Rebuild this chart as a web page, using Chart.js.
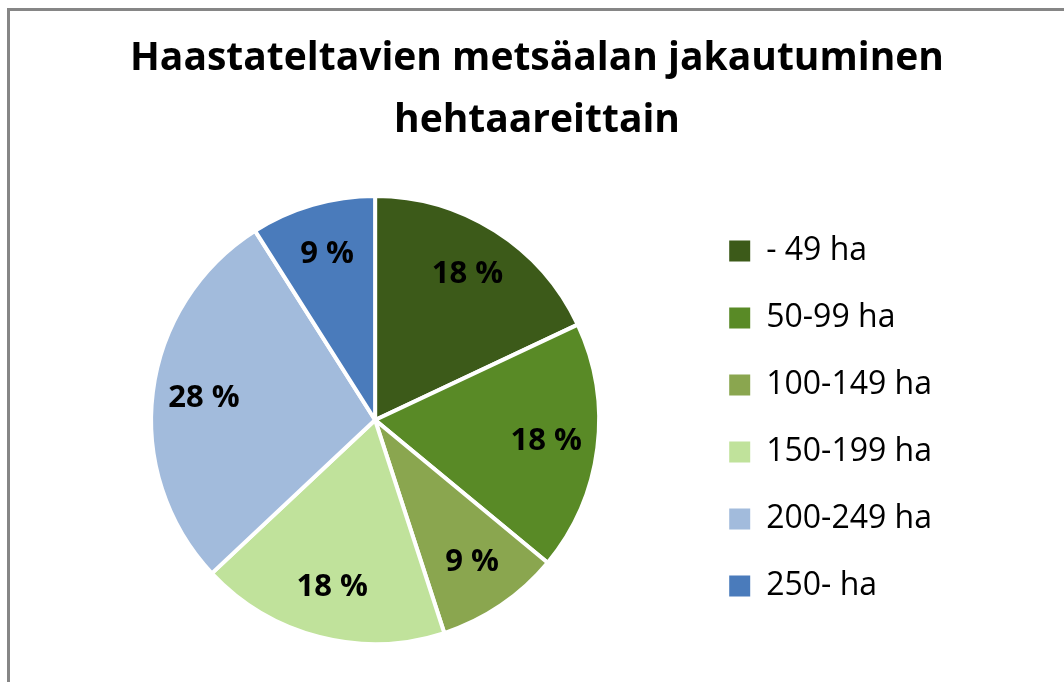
<!DOCTYPE html>
<html>
<head>
<meta charset="utf-8">
<script src="https://cdn.jsdelivr.net/npm/chart.js@4"></script>
<style>
  html, body { margin: 0; padding: 0; background: #fff; overflow: hidden; }
  #frame {
    position: absolute; left: 7px; top: 8px;
    width: 1054px; height: 671px;
    border-left: 3px solid #868686; border-top: 3px solid #868686;
  }
</style>
</head>
<body>
<div id="frame"><canvas id="pie" width="1054" height="671"></canvas></div>
<script>
// Chart data
const titleLines = ['Haastateltavien metsäalan jakautuminen', 'hehtaareittain'];
const categories = ['- 49 ha', '50-99 ha', '100-149 ha', '150-199 ha', '200-249 ha', '250- ha'];
const shares = [18, 18, 9, 18, 28, 9];
const sliceColors = ['#3c5a19', '#598a26', '#8aa64f', '#c0e29b', '#a2bbdc', '#4a7bbb'];

// draws the "18 %" style labels inside the slices
const sliceLabels = {
    id: 'sliceLabels',
    afterDatasetsDraw(chart) {
        const ctx = chart.ctx;
        const arcs = chart.getDatasetMeta(0).data;
        ctx.save();
        ctx.font = 'bold 31px "Open Sans"';
        ctx.fillStyle = '#000';
        ctx.textAlign = 'center';
        ctx.textBaseline = 'middle';
        arcs.forEach((arc, i) => {
            const { x, y, startAngle, endAngle, outerRadius } = arc.getProps(['x', 'y', 'startAngle', 'endAngle', 'outerRadius'], true);
            const mid = (startAngle + endAngle) / 2;
            const r = outerRadius * 0.77;
            ctx.fillText(shares[i] + ' %', x + Math.cos(mid) * r, y + Math.sin(mid) * r);
        });
        ctx.restore();
    }
};

// title is centred over the whole canvas, not just the part left of the legend
const fullWidthTitle = {
    id: 'fullWidthTitle',
    afterLayout(chart) {
        if (chart.titleBlock) {
            chart.titleBlock.left = 0;
            chart.titleBlock.right = chart.width;
            chart.titleBlock.width = chart.width;
        }
    }
};

const pieLegendLabels = Chart.overrides.pie.plugins.legend.labels.generateLabels;

new Chart(document.getElementById('pie').getContext('2d'), {
    type: 'pie',
    data: {
        labels: categories,
        datasets: [{
            data: shares,
            backgroundColor: sliceColors,
            borderColor: '#fff',
            borderWidth: 4
        }]
    },
    options: {
        responsive: false,
        animation: false,
        layout: { padding: { left: 46, right: 122, top: 0, bottom: 36 } },
        plugins: {
            title: {
                display: true,
                text: titleLines,
                color: '#000',
                font: { family: '"Open Sans"', size: 39, weight: 'bold', lineHeight: 1.59 },
                padding: { top: 17, bottom: 42 }
            },
            legend: {
                position: 'right',
                // empty title only pushes the entries down to sit beside the pie
                title: { display: true, text: ' ', font: { size: 10 }, padding: 84 },
                labels: {
                    boxWidth: 21,
                    boxHeight: 21,
                    padding: 35,
                    color: '#000',
                    font: { family: '"Open Sans"', size: 32 },
                    generateLabels: chart => pieLegendLabels(chart).map(l => ({ ...l, lineWidth: 0 }))
                }
            },
            tooltip: { enabled: false }
        }
    },
    plugins: [sliceLabels, fullWidthTitle]
});
</script>
</body>
</html>
